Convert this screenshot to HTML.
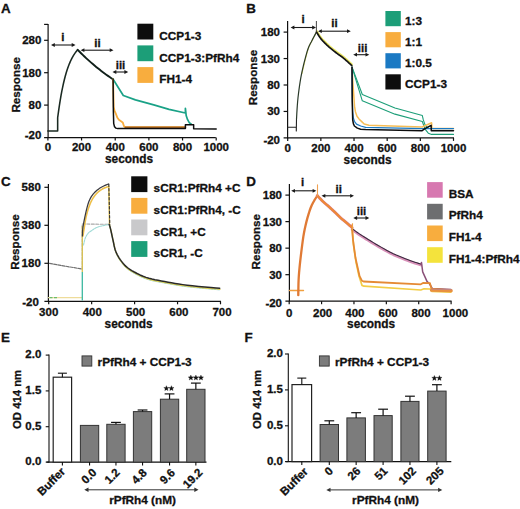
<!DOCTYPE html>
<html><head><meta charset="utf-8"><style>html,body{margin:0;padding:0;background:#fff;}svg{display:block;font-family:"Liberation Sans",sans-serif;font-weight:bold;}</style></head>
<body><svg width="520" height="509" viewBox="0 0 520 509" font-family="Liberation Sans, sans-serif" font-weight="bold">
<rect width="520" height="509" fill="#fff"/>
<text x="1.00" y="12.90" font-size="13.4" text-anchor="start" fill="#111" stroke="#111" stroke-width="0.3" >A</text>
<line x1="48.10" y1="23.90" x2="48.10" y2="138.00" stroke="#111111" stroke-width="1.2" />
<line x1="44.10" y1="24.40" x2="48.10" y2="24.40" stroke="#111111" stroke-width="1.2" />
<line x1="44.10" y1="40.30" x2="48.10" y2="40.30" stroke="#111111" stroke-width="1.2" />
<line x1="44.10" y1="72.70" x2="48.10" y2="72.70" stroke="#111111" stroke-width="1.2" />
<line x1="44.10" y1="105.10" x2="48.10" y2="105.10" stroke="#111111" stroke-width="1.2" />
<line x1="44.10" y1="137.50" x2="215.80" y2="137.50" stroke="#111111" stroke-width="1.25" />
<line x1="47.90" y1="137.50" x2="47.90" y2="140.50" stroke="#111111" stroke-width="1.2" />
<line x1="81.56" y1="137.50" x2="81.56" y2="140.50" stroke="#111111" stroke-width="1.2" />
<line x1="115.22" y1="137.50" x2="115.22" y2="140.50" stroke="#111111" stroke-width="1.2" />
<line x1="148.88" y1="137.50" x2="148.88" y2="140.50" stroke="#111111" stroke-width="1.2" />
<line x1="182.54" y1="137.50" x2="182.54" y2="140.50" stroke="#111111" stroke-width="1.2" />
<line x1="216.20" y1="137.50" x2="216.20" y2="140.50" stroke="#111111" stroke-width="1.2" />
<text x="41.40" y="44.20" font-size="11.5" text-anchor="end" fill="#111" stroke="#111" stroke-width="0.3" >280</text>
<text x="41.40" y="76.60" font-size="11.5" text-anchor="end" fill="#111" stroke="#111" stroke-width="0.3" >180</text>
<text x="41.40" y="109.00" font-size="11.5" text-anchor="end" fill="#111" stroke="#111" stroke-width="0.3" >80</text>
<text x="41.40" y="139.40" font-size="11.5" text-anchor="end" fill="#111" stroke="#111" stroke-width="0.3" >-20</text>
<text x="47.90" y="151.20" font-size="11.5" text-anchor="middle" fill="#111" stroke="#111" stroke-width="0.3" >0</text>
<text x="81.56" y="151.20" font-size="11.5" text-anchor="middle" fill="#111" stroke="#111" stroke-width="0.3" >200</text>
<text x="115.22" y="151.20" font-size="11.5" text-anchor="middle" fill="#111" stroke="#111" stroke-width="0.3" >400</text>
<text x="148.88" y="151.20" font-size="11.5" text-anchor="middle" fill="#111" stroke="#111" stroke-width="0.3" >600</text>
<text x="182.54" y="151.20" font-size="11.5" text-anchor="middle" fill="#111" stroke="#111" stroke-width="0.3" >800</text>
<text x="216.20" y="151.20" font-size="11.5" text-anchor="middle" fill="#111" stroke="#111" stroke-width="0.3" >1000</text>
<text transform="translate(20.30,84.80) rotate(-90)" font-size="11.6" text-anchor="middle" fill="#111" stroke="#111" stroke-width="0.3">Response</text>
<text x="129.00" y="163.10" font-size="11.85" text-anchor="middle" fill="#111" stroke="#111" stroke-width="0.3" >seconds</text>
<line x1="53.00" y1="45.00" x2="73.50" y2="45.00" stroke="#1a1a1a" stroke-width="1.1" />
<polygon points="51.00,45.00 54.80,43.10 54.80,46.90" fill="#1a1a1a"/>
<polygon points="75.50,45.00 71.70,43.10 71.70,46.90" fill="#1a1a1a"/>
<text x="62.90" y="41.30" font-size="11.5" text-anchor="middle" fill="#111" stroke="#111" stroke-width="0.3" >i</text>
<line x1="82.60" y1="50.20" x2="111.50" y2="50.20" stroke="#1a1a1a" stroke-width="1.1" />
<polygon points="80.60,50.20 84.40,48.30 84.40,52.10" fill="#1a1a1a"/>
<polygon points="113.50,50.20 109.70,48.30 109.70,52.10" fill="#1a1a1a"/>
<text x="97.50" y="46.90" font-size="11.5" text-anchor="middle" fill="#111" stroke="#111" stroke-width="0.3" >ii</text>
<line x1="114.50" y1="72.00" x2="126.20" y2="72.00" stroke="#1a1a1a" stroke-width="1.1" />
<polygon points="112.50,72.00 116.30,70.10 116.30,73.90" fill="#1a1a1a"/>
<polygon points="128.20,72.00 124.40,70.10 124.40,73.90" fill="#1a1a1a"/>
<text x="120.50" y="69.40" font-size="11.5" text-anchor="middle" fill="#111" stroke="#111" stroke-width="0.3" >iii</text>
<rect x="137.40" y="23.70" width="15.90" height="15.80" fill="#0d0d0d" stroke="none" stroke-width="0"/>
<text x="159.30" y="39.90" font-size="11.8" text-anchor="start" fill="#111" stroke="#111" stroke-width="0.3" >CCP1-3</text>
<rect x="137.40" y="45.40" width="15.90" height="15.80" fill="#1c9e78" stroke="none" stroke-width="0"/>
<text x="159.30" y="61.60" font-size="11.8" text-anchor="start" fill="#111" stroke="#111" stroke-width="0.3" >CCP1-3:PfRh4</text>
<rect x="137.40" y="67.10" width="15.90" height="15.80" fill="#f8ad3e" stroke="none" stroke-width="0"/>
<text x="159.30" y="83.30" font-size="11.8" text-anchor="start" fill="#111" stroke="#111" stroke-width="0.3" >FH1-4</text>
<polyline points="47.90,130.92 57.66,130.92 57.66,117.74 58.50,111.53 59.33,105.80 60.16,100.53 61.00,95.67 61.83,91.19 62.67,87.07 63.50,83.27 64.34,79.77 65.17,76.54 66.01,73.56 66.84,70.82 67.68,68.30 68.51,65.97 69.34,63.83 70.18,61.85 71.01,60.03 71.85,58.35 72.68,56.81 73.52,55.39 74.35,54.07 75.19,52.86 76.02,51.75 76.85,50.72 77.69,49.78" fill="none" stroke="#1a2a22" stroke-width="1.55" stroke-linejoin="round" stroke-linecap="round" />
<polyline points="77.69,49.79 79.37,51.52 81.06,53.21 82.74,54.87 84.42,56.49 86.10,58.07 87.79,59.62 89.47,61.14 91.15,62.63 92.84,64.08 94.52,65.51 96.20,66.90 97.89,68.26 99.57,69.60 101.25,70.91 102.93,72.18 104.62,73.44 106.30,74.66 107.98,75.86 109.67,77.03 111.35,78.18 113.03,79.31 113.10,79.35" fill="none" stroke="#10201a" stroke-width="1.9" stroke-linejoin="round" stroke-linecap="round" />
<polyline points="113.10,79.31 123.30,95.51 135.42,99.92 153.76,104.94 169.08,109.31 185.40,113.04 185.40,108.34 186.24,115.79 187.59,119.68 189.27,122.60 191.29,124.22" fill="none" stroke="#1aa287" stroke-width="1.7" stroke-linejoin="round" stroke-linecap="round" />
<polyline points="113.10,79.31 113.37,92.14 113.69,107.01 114.55,110.93 115.71,113.39 117.24,117.41 118.91,119.81 122.71,122.40 124.01,126.19 125.32,127.20 185.40,127.20" fill="none" stroke="#f8ad3e" stroke-width="1.8" stroke-linejoin="round" stroke-linecap="round" />
<polyline points="125.32,127.20 185.40,127.20" fill="none" stroke="#b06a25" stroke-width="1.4" stroke-linejoin="round" stroke-linecap="round" />
<polyline points="113.10,79.31 113.37,111.58 113.71,123.60 114.55,126.81 115.89,128.10 117.74,128.62 185.40,128.62 185.40,124.67 193.65,124.67 193.65,128.75 216.20,128.88" fill="none" stroke="#0d0d0d" stroke-width="1.5" stroke-linejoin="round" stroke-linecap="round" />
<text x="246.30" y="12.80" font-size="13.4" text-anchor="start" fill="#111" stroke="#111" stroke-width="0.3" >B</text>
<line x1="287.60" y1="21.00" x2="287.60" y2="138.40" stroke="#111111" stroke-width="1.2" />
<line x1="283.60" y1="32.10" x2="287.60" y2="32.10" stroke="#111111" stroke-width="1.2" />
<line x1="283.60" y1="58.55" x2="287.60" y2="58.55" stroke="#111111" stroke-width="1.2" />
<line x1="283.60" y1="85.00" x2="287.60" y2="85.00" stroke="#111111" stroke-width="1.2" />
<line x1="283.60" y1="111.45" x2="287.60" y2="111.45" stroke="#111111" stroke-width="1.2" />
<line x1="283.60" y1="137.90" x2="454.00" y2="137.90" stroke="#111111" stroke-width="1.25" />
<line x1="287.70" y1="137.90" x2="287.70" y2="140.90" stroke="#111111" stroke-width="1.2" />
<line x1="320.86" y1="137.90" x2="320.86" y2="140.90" stroke="#111111" stroke-width="1.2" />
<line x1="354.02" y1="137.90" x2="354.02" y2="140.90" stroke="#111111" stroke-width="1.2" />
<line x1="387.18" y1="137.90" x2="387.18" y2="140.90" stroke="#111111" stroke-width="1.2" />
<line x1="420.34" y1="137.90" x2="420.34" y2="140.90" stroke="#111111" stroke-width="1.2" />
<line x1="453.50" y1="137.90" x2="453.50" y2="140.90" stroke="#111111" stroke-width="1.2" />
<text x="280.00" y="36.10" font-size="11.5" text-anchor="end" fill="#111" stroke="#111" stroke-width="0.3" >180</text>
<text x="280.00" y="62.55" font-size="11.5" text-anchor="end" fill="#111" stroke="#111" stroke-width="0.3" >130</text>
<text x="280.00" y="89.00" font-size="11.5" text-anchor="end" fill="#111" stroke="#111" stroke-width="0.3" >80</text>
<text x="280.00" y="115.45" font-size="11.5" text-anchor="end" fill="#111" stroke="#111" stroke-width="0.3" >30</text>
<text x="280.00" y="143.70" font-size="11.5" text-anchor="end" fill="#111" stroke="#111" stroke-width="0.3" >-20</text>
<text x="287.70" y="152.40" font-size="11.5" text-anchor="middle" fill="#111" stroke="#111" stroke-width="0.3" >0</text>
<text x="320.86" y="152.40" font-size="11.5" text-anchor="middle" fill="#111" stroke="#111" stroke-width="0.3" >200</text>
<text x="354.02" y="152.40" font-size="11.5" text-anchor="middle" fill="#111" stroke="#111" stroke-width="0.3" >400</text>
<text x="387.18" y="152.40" font-size="11.5" text-anchor="middle" fill="#111" stroke="#111" stroke-width="0.3" >600</text>
<text x="420.34" y="152.40" font-size="11.5" text-anchor="middle" fill="#111" stroke="#111" stroke-width="0.3" >800</text>
<text x="453.50" y="152.40" font-size="11.5" text-anchor="middle" fill="#111" stroke="#111" stroke-width="0.3" >1000</text>
<text transform="translate(257.40,77.50) rotate(-90)" font-size="11.6" text-anchor="middle" fill="#111" stroke="#111" stroke-width="0.3">Response</text>
<text x="367.60" y="163.60" font-size="11.85" text-anchor="middle" fill="#111" stroke="#111" stroke-width="0.3" >seconds</text>
<line x1="292.60" y1="27.50" x2="314.00" y2="27.50" stroke="#1a1a1a" stroke-width="1.1" />
<polygon points="290.60,27.50 294.40,25.60 294.40,29.40" fill="#1a1a1a"/>
<polygon points="316.00,27.50 312.20,25.60 312.20,29.40" fill="#1a1a1a"/>
<text x="303.20" y="23.20" font-size="11.5" text-anchor="middle" fill="#111" stroke="#111" stroke-width="0.3" >i</text>
<line x1="320.00" y1="31.20" x2="348.80" y2="31.20" stroke="#1a1a1a" stroke-width="1.1" />
<polygon points="318.00,31.20 321.80,29.30 321.80,33.10" fill="#1a1a1a"/>
<polygon points="350.80,31.20 347.00,29.30 347.00,33.10" fill="#1a1a1a"/>
<text x="334.50" y="27.30" font-size="11.5" text-anchor="middle" fill="#111" stroke="#111" stroke-width="0.3" >ii</text>
<line x1="355.20" y1="54.70" x2="367.30" y2="54.70" stroke="#1a1a1a" stroke-width="1.1" />
<polygon points="353.20,54.70 357.00,52.80 357.00,56.60" fill="#1a1a1a"/>
<polygon points="369.30,54.70 365.50,52.80 365.50,56.60" fill="#1a1a1a"/>
<text x="362.60" y="52.00" font-size="11.5" text-anchor="middle" fill="#111" stroke="#111" stroke-width="0.3" >iii</text>
<rect x="385.40" y="11.00" width="15.40" height="15.20" fill="#1c9e78" stroke="none" stroke-width="0"/>
<text x="405.00" y="24.70" font-size="11.8" text-anchor="start" fill="#111" stroke="#111" stroke-width="0.3" >1:3</text>
<rect x="385.40" y="32.10" width="15.40" height="15.20" fill="#f8ad3e" stroke="none" stroke-width="0"/>
<text x="405.00" y="45.80" font-size="11.8" text-anchor="start" fill="#111" stroke="#111" stroke-width="0.3" >1:1</text>
<rect x="385.40" y="53.20" width="15.40" height="15.20" fill="#1b79c3" stroke="none" stroke-width="0"/>
<text x="405.00" y="66.90" font-size="11.8" text-anchor="start" fill="#111" stroke="#111" stroke-width="0.3" >1:0.5</text>
<rect x="385.40" y="74.30" width="15.40" height="15.20" fill="#0d0d0d" stroke="none" stroke-width="0"/>
<text x="405.00" y="88.00" font-size="11.8" text-anchor="start" fill="#111" stroke="#111" stroke-width="0.3" >CCP1-3</text>
<polyline points="287.80,127.30 296.30,127.30 296.30,130.90 296.50,119.00" fill="none" stroke="#222" stroke-width="1.1" stroke-linejoin="round" stroke-linecap="round" />
<polyline points="301.90,73.60 302.56,70.89 303.48,67.01 304.56,62.49 305.71,57.82 306.82,53.52 307.80,50.10 308.64,47.61 309.43,45.65 310.19,44.06 310.92,42.68 311.65,41.35 312.40,39.90 313.21,38.29 314.07,36.63 314.94,35.01 315.74,33.54 316.41,32.31 316.90,31.40" fill="none" stroke="#e6e070" stroke-width="1.1" stroke-linejoin="round" stroke-linecap="round" />
<polyline points="296.50,119.00 296.64,116.72 296.81,113.59 297.03,109.88 297.30,105.83 297.62,101.72 298.00,97.80 298.44,94.00 298.93,90.11 299.47,86.14 300.08,82.15 300.75,78.16 301.50,74.20 302.36,70.12 303.34,65.87 304.38,61.61 305.44,57.54 306.46,53.85 307.40,50.70 308.24,48.21 309.03,46.25 309.79,44.66 310.52,43.28 311.25,41.95 312.00,40.50 312.81,38.89 313.67,37.23 314.54,35.61 315.34,34.14 316.01,32.91 316.50,32.00" fill="none" stroke="#2a3a2a" stroke-width="1.2" stroke-linejoin="round" stroke-linecap="round" />
<polyline points="316.70,30.70 317.16,31.43 317.78,32.45 318.52,33.65 319.34,34.93 320.18,36.18 321.00,37.30 321.81,38.30 322.65,39.26 323.52,40.20 324.40,41.11 325.30,42.01 326.20,42.90 327.11,43.78 328.04,44.64 328.99,45.49 329.93,46.31 330.87,47.12 331.80,47.90 332.71,48.65 333.61,49.37 334.51,50.07 335.41,50.75 336.30,51.43 337.20,52.10 338.11,52.77 339.03,53.42 339.95,54.07 340.86,54.71 341.75,55.35 342.60,56.00 343.41,56.64 344.19,57.28 344.94,57.92 345.68,58.56 346.43,59.22 347.20,59.90 348.04,60.66 348.96,61.49 349.89,62.34 350.75,63.14 351.48,63.82 352.00,64.30" fill="none" stroke="#e8e460" stroke-width="1.8" stroke-linejoin="round" stroke-linecap="round" />
<polyline points="316.50,32.00 316.96,32.73 317.58,33.75 318.33,34.95 319.14,36.23 319.98,37.48 320.80,38.60 321.61,39.60 322.45,40.56 323.32,41.50 324.20,42.41 325.10,43.31 326.00,44.20 326.91,45.08 327.84,45.94 328.79,46.79 329.73,47.61 330.67,48.42 331.60,49.20 332.51,49.95 333.41,50.67 334.31,51.37 335.21,52.05 336.10,52.73 337.00,53.40 337.91,54.07 338.83,54.72 339.75,55.37 340.66,56.01 341.55,56.65 342.40,57.30 343.21,57.94 343.99,58.58 344.74,59.22 345.48,59.86 346.23,60.52 347.00,61.20 347.84,61.96 348.76,62.79 349.69,63.64 350.55,64.44 351.28,65.12 351.80,65.60" fill="none" stroke="#141414" stroke-width="1.7" stroke-linejoin="round" stroke-linecap="round" />
<line x1="316.38" y1="21.00" x2="316.38" y2="31.70" stroke="#444" stroke-width="1.0" />
<polyline points="352.03,67.17 362.31,94.52 394.97,107.96 422.33,115.58 423.32,119.91 424.98,124.68 426.97,127.32 429.46,128.48 453.50,128.48" fill="none" stroke="#1c9e78" stroke-width="1.1" stroke-linejoin="round" stroke-linecap="round" />
<polyline points="352.03,67.17 362.31,100.82 394.97,114.15 422.33,121.55 423.66,125.20 425.65,129.97 428.30,133.14 431.61,134.41 453.50,134.41" fill="none" stroke="#1c9e78" stroke-width="1.1" stroke-linejoin="round" stroke-linecap="round" />
<polyline points="352.03,67.17 352.36,74.42 353.19,87.65 353.90,97.01 354.52,106.16 355.40,111.66 357.00,116.21 358.99,118.91 361.99,121.87 364.20,124.09 368.94,125.20 422.16,127.00 431.61,122.77 431.95,128.59 453.50,128.59" fill="none" stroke="#f6bd55" stroke-width="1.5" stroke-linejoin="round" stroke-linecap="round" />
<polyline points="352.03,67.17 352.20,90.29 352.69,111.45 353.36,117.80 354.40,121.29 356.51,124.15 360.70,126.00 365.63,127.32 422.16,128.59 431.61,128.59 453.50,128.59" fill="none" stroke="#1b79c3" stroke-width="1.2" stroke-linejoin="round" stroke-linecap="round" />
<polyline points="352.03,67.17 352.20,100.87 352.69,119.91 353.36,123.62 354.40,126.00 357.34,128.11 360.65,129.17 365.63,129.49 422.16,130.71 425.31,128.38 431.12,125.36 431.28,130.71 453.50,130.71" fill="none" stroke="#0d0d0d" stroke-width="1.5" stroke-linejoin="round" stroke-linecap="round" />
<text x="1.00" y="186.40" font-size="13.4" text-anchor="start" fill="#111" stroke="#111" stroke-width="0.3" >C</text>
<line x1="48.40" y1="183.90" x2="48.40" y2="301.80" stroke="#111111" stroke-width="1.2" />
<line x1="44.40" y1="187.30" x2="48.40" y2="187.30" stroke="#111111" stroke-width="1.2" />
<line x1="44.40" y1="225.30" x2="48.40" y2="225.30" stroke="#111111" stroke-width="1.2" />
<line x1="44.40" y1="263.30" x2="48.40" y2="263.30" stroke="#111111" stroke-width="1.2" />
<line x1="44.40" y1="301.30" x2="221.00" y2="301.30" stroke="#111111" stroke-width="1.25" />
<line x1="48.70" y1="301.30" x2="48.70" y2="304.30" stroke="#111111" stroke-width="1.2" />
<line x1="91.65" y1="301.30" x2="91.65" y2="304.30" stroke="#111111" stroke-width="1.2" />
<line x1="134.60" y1="301.30" x2="134.60" y2="304.30" stroke="#111111" stroke-width="1.2" />
<line x1="177.55" y1="301.30" x2="177.55" y2="304.30" stroke="#111111" stroke-width="1.2" />
<line x1="220.50" y1="301.30" x2="220.50" y2="304.30" stroke="#111111" stroke-width="1.2" />
<text x="40.80" y="191.20" font-size="11.5" text-anchor="end" fill="#111" stroke="#111" stroke-width="0.3" >580</text>
<text x="40.80" y="229.20" font-size="11.5" text-anchor="end" fill="#111" stroke="#111" stroke-width="0.3" >380</text>
<text x="40.80" y="267.20" font-size="11.5" text-anchor="end" fill="#111" stroke="#111" stroke-width="0.3" >180</text>
<text x="38.80" y="306.00" font-size="11.5" text-anchor="end" fill="#111" stroke="#111" stroke-width="0.3" >-20</text>
<text x="48.70" y="316.30" font-size="11.5" text-anchor="middle" fill="#111" stroke="#111" stroke-width="0.3" >300</text>
<text x="92.25" y="316.30" font-size="11.5" text-anchor="middle" fill="#111" stroke="#111" stroke-width="0.3" >400</text>
<text x="135.60" y="316.30" font-size="11.5" text-anchor="middle" fill="#111" stroke="#111" stroke-width="0.3" >500</text>
<text x="178.85" y="316.30" font-size="11.5" text-anchor="middle" fill="#111" stroke="#111" stroke-width="0.3" >600</text>
<text x="222.00" y="316.30" font-size="11.5" text-anchor="middle" fill="#111" stroke="#111" stroke-width="0.3" >700</text>
<text transform="translate(18.50,242.00) rotate(-90)" font-size="11.6" text-anchor="middle" fill="#111" stroke="#111" stroke-width="0.3">Response</text>
<text x="128.60" y="327.60" font-size="11.85" text-anchor="middle" fill="#111" stroke="#111" stroke-width="0.3" >seconds</text>
<rect x="131.20" y="176.30" width="16.20" height="15.80" fill="#0d0d0d" stroke="none" stroke-width="0"/>
<text x="153.60" y="192.40" font-size="11.8" text-anchor="start" fill="#111" stroke="#111" stroke-width="0.3" >sCR1:PfRh4 +C</text>
<rect x="131.20" y="197.90" width="16.20" height="15.80" fill="#f8ad3e" stroke="none" stroke-width="0"/>
<text x="153.60" y="214.00" font-size="11.8" text-anchor="start" fill="#111" stroke="#111" stroke-width="0.3" >sCR1:PfRh4, -C</text>
<rect x="131.20" y="219.50" width="16.20" height="15.80" fill="#c9c9cb" stroke="none" stroke-width="0"/>
<text x="153.60" y="235.60" font-size="11.8" text-anchor="start" fill="#111" stroke="#111" stroke-width="0.3" >sCR1, +C</text>
<rect x="131.20" y="241.10" width="16.20" height="15.80" fill="#1c9e78" stroke="none" stroke-width="0"/>
<text x="153.60" y="257.20" font-size="11.8" text-anchor="start" fill="#111" stroke="#111" stroke-width="0.3" >sCR1, -C</text>
<polyline points="49.50,263.40 81.20,268.90" fill="none" stroke="#707070" stroke-width="1.2" stroke-linejoin="round" stroke-linecap="round" stroke-dasharray="3,1.2"/>
<polyline points="82.20,268.90 82.20,224.00 108.50,224.30" fill="none" stroke="#a8a8a8" stroke-width="1.1" stroke-linejoin="round" stroke-linecap="round" stroke-dasharray="3,1.5"/>
<polyline points="83.50,245.00 83.69,244.21 83.93,243.09 84.23,241.78 84.57,240.41 84.93,239.10 85.30,238.00 85.69,237.08 86.12,236.24 86.57,235.47 87.04,234.76 87.52,234.11 88.00,233.50 88.44,232.98 88.83,232.57 89.23,232.22 89.69,231.87 90.27,231.48 91.00,231.00 91.89,230.40 92.88,229.73 93.98,229.01 95.20,228.29 96.54,227.60 98.00,227.00 99.77,226.46 101.87,225.93 104.09,225.45 106.21,225.02 108.02,224.67 109.30,224.40" fill="none" stroke="#9edad6" stroke-width="1.1" stroke-linejoin="round" stroke-linecap="round" stroke-dasharray="2,1"/>
<polyline points="48.50,297.60 82.20,297.60" fill="none" stroke="#eedc9a" stroke-width="1.3" stroke-linejoin="round" stroke-linecap="round" />
<line x1="49.50" y1="297.60" x2="58.00" y2="297.60" stroke="#6cbc6c" stroke-width="1.1" stroke-dasharray="3,1.5"/>
<line x1="82.30" y1="300.50" x2="82.30" y2="272.00" stroke="#3bb8a0" stroke-width="1.3" />
<line x1="82.30" y1="272.00" x2="82.30" y2="226.00" stroke="#d8c050" stroke-width="1.3" />
<polyline points="83.00,236.00 83.08,235.43 83.17,234.72 83.28,233.84 83.43,232.76 83.64,231.42 83.90,229.80 84.23,227.77 84.60,225.34 85.03,222.67 85.51,219.90 86.03,217.19 86.60,214.70 87.22,212.37 87.90,210.06 88.63,207.81 89.40,205.66 90.19,203.65 91.00,201.80 91.83,200.14 92.69,198.63 93.58,197.25 94.49,195.99 95.43,194.81 96.40,193.70 97.42,192.67 98.50,191.73 99.60,190.88 100.70,190.11 101.78,189.42 102.80,188.80 103.82,188.25 104.87,187.79 105.90,187.39 106.84,187.07 107.62,186.81 108.20,186.60" fill="none" stroke="#eec04a" stroke-width="1.6" stroke-linejoin="round" stroke-linecap="round" />
<polyline points="82.40,236.00 82.43,235.16 82.45,234.06 82.48,232.73 82.55,231.20 82.68,229.52 82.90,227.70 83.22,225.66 83.62,223.34 84.08,220.87 84.58,218.34 85.10,215.88 85.60,213.60 86.09,211.45 86.59,209.34 87.10,207.29 87.63,205.34 88.20,203.50 88.80,201.80 89.43,200.27 90.07,198.89 90.74,197.63 91.46,196.45 92.24,195.32 93.10,194.20 94.04,193.09 95.06,192.03 96.14,191.01 97.27,190.05 98.43,189.14 99.60,188.30 100.87,187.50 102.28,186.75 103.72,186.05 105.09,185.43 106.28,184.91 107.20,184.50 107.81,184.24 108.18,184.13 108.38,184.11 108.47,184.15 108.52,184.19 108.60,184.20" fill="none" stroke="#3a3a40" stroke-width="1.25" stroke-linejoin="round" stroke-linecap="round" />
<polyline points="108.80,186.00 109.50,224.70" fill="none" stroke="#d9b430" stroke-width="1.3" stroke-linejoin="round" stroke-linecap="round" />
<polyline points="108.80,184.00 109.80,224.70" fill="none" stroke="#333" stroke-width="1.1" stroke-linejoin="round" stroke-linecap="round" stroke-dasharray="2.5,2"/>
<polyline points="109.50,225.90 109.65,226.42 109.86,227.08 110.11,227.89 110.39,228.84 110.69,229.95 111.00,231.20 111.33,232.66 111.69,234.33 112.07,236.14 112.47,238.04 112.88,239.95 113.30,241.80 113.69,243.63 114.07,245.49 114.45,247.36 114.88,249.21 115.38,251.04 116.00,252.80 116.72,254.51 117.52,256.19 118.40,257.82 119.36,259.43 120.39,260.99 121.50,262.50 122.63,263.95 123.76,265.34 124.96,266.69 126.32,268.01 127.91,269.34 129.80,270.70 132.05,272.13 134.61,273.61 137.40,275.11 140.33,276.54 143.33,277.86 146.30,279.00 149.25,279.93 152.23,280.69 155.28,281.34 158.40,281.92 161.64,282.49 165.00,283.10 168.41,283.75 171.85,284.39 175.39,285.01 179.12,285.63 183.13,286.22 187.50,286.80 192.71,287.39 198.80,287.99 205.16,288.58 211.20,289.12 216.35,289.57 220.00,289.90" fill="none" stroke="#8fd6d2" stroke-width="1.0" stroke-linejoin="round" stroke-linecap="round" stroke-dasharray="2,1"/>
<polyline points="109.50,225.30 109.65,225.82 109.86,226.48 110.11,227.29 110.39,228.24 110.69,229.35 111.00,230.60 111.33,232.06 111.69,233.73 112.07,235.54 112.47,237.44 112.88,239.35 113.30,241.20 113.69,243.03 114.07,244.89 114.45,246.76 114.88,248.61 115.38,250.44 116.00,252.20 116.72,253.91 117.52,255.59 118.40,257.23 119.36,258.83 120.39,260.39 121.50,261.90 122.63,263.35 123.76,264.74 124.96,266.09 126.32,267.41 127.91,268.74 129.80,270.10 132.05,271.53 134.61,273.01 137.40,274.51 140.33,275.94 143.33,277.26 146.30,278.40 149.25,279.33 152.23,280.09 155.28,280.74 158.40,281.32 161.64,281.89 165.00,282.50 168.41,283.15 171.85,283.79 175.39,284.41 179.12,285.03 183.13,285.62 187.50,286.20 192.71,286.79 198.80,287.39 205.16,287.98 211.20,288.52 216.35,288.97 220.00,289.30" fill="none" stroke="#e0cf50" stroke-width="1.3" stroke-linejoin="round" stroke-linecap="round" />
<polyline points="109.20,224.30 109.35,224.82 109.56,225.48 109.81,226.29 110.09,227.24 110.39,228.35 110.70,229.60 111.03,231.06 111.39,232.73 111.78,234.54 112.17,236.44 112.58,238.35 113.00,240.20 113.39,242.03 113.77,243.89 114.15,245.76 114.58,247.61 115.08,249.44 115.70,251.20 116.42,252.91 117.22,254.59 118.10,256.23 119.06,257.83 120.09,259.39 121.20,260.90 122.33,262.35 123.46,263.74 124.66,265.09 126.02,266.41 127.61,267.74 129.50,269.10 131.75,270.53 134.31,272.01 137.10,273.51 140.03,274.94 143.03,276.26 146.00,277.40 148.95,278.33 151.93,279.09 154.97,279.74 158.10,280.32 161.34,280.89 164.70,281.50 168.11,282.15 171.55,282.79 175.09,283.41 178.82,284.03 182.83,284.62 187.20,285.20 192.41,285.79 198.50,286.39 204.86,286.98 210.90,287.52 216.05,287.97 219.70,288.30" fill="none" stroke="#2a2a2a" stroke-width="1.5" stroke-linejoin="round" stroke-linecap="round" />
<text x="246.30" y="185.80" font-size="13.4" text-anchor="start" fill="#111" stroke="#111" stroke-width="0.3" >D</text>
<line x1="289.40" y1="183.90" x2="289.40" y2="301.70" stroke="#111111" stroke-width="1.2" />
<line x1="285.40" y1="195.10" x2="289.40" y2="195.10" stroke="#111111" stroke-width="1.2" />
<line x1="285.40" y1="221.62" x2="289.40" y2="221.62" stroke="#111111" stroke-width="1.2" />
<line x1="285.40" y1="248.15" x2="289.40" y2="248.15" stroke="#111111" stroke-width="1.2" />
<line x1="285.40" y1="274.68" x2="289.40" y2="274.68" stroke="#111111" stroke-width="1.2" />
<line x1="285.40" y1="301.20" x2="451.60" y2="301.20" stroke="#111111" stroke-width="1.25" />
<line x1="289.20" y1="301.20" x2="289.20" y2="304.20" stroke="#111111" stroke-width="1.2" />
<line x1="321.58" y1="301.20" x2="321.58" y2="304.20" stroke="#111111" stroke-width="1.2" />
<line x1="353.96" y1="301.20" x2="353.96" y2="304.20" stroke="#111111" stroke-width="1.2" />
<line x1="386.34" y1="301.20" x2="386.34" y2="304.20" stroke="#111111" stroke-width="1.2" />
<line x1="418.72" y1="301.20" x2="418.72" y2="304.20" stroke="#111111" stroke-width="1.2" />
<line x1="451.10" y1="301.20" x2="451.10" y2="304.20" stroke="#111111" stroke-width="1.2" />
<text x="282.00" y="199.00" font-size="11.5" text-anchor="end" fill="#111" stroke="#111" stroke-width="0.3" >180</text>
<text x="282.00" y="225.53" font-size="11.5" text-anchor="end" fill="#111" stroke="#111" stroke-width="0.3" >130</text>
<text x="282.00" y="252.05" font-size="11.5" text-anchor="end" fill="#111" stroke="#111" stroke-width="0.3" >80</text>
<text x="282.00" y="278.57" font-size="11.5" text-anchor="end" fill="#111" stroke="#111" stroke-width="0.3" >30</text>
<text x="282.00" y="306.90" font-size="11.5" text-anchor="end" fill="#111" stroke="#111" stroke-width="0.3" >-20</text>
<text x="289.20" y="316.70" font-size="11.5" text-anchor="middle" fill="#111" stroke="#111" stroke-width="0.3" >0</text>
<text x="322.58" y="316.70" font-size="11.5" text-anchor="middle" fill="#111" stroke="#111" stroke-width="0.3" >200</text>
<text x="354.86" y="316.70" font-size="11.5" text-anchor="middle" fill="#111" stroke="#111" stroke-width="0.3" >400</text>
<text x="388.14" y="316.70" font-size="11.5" text-anchor="middle" fill="#111" stroke="#111" stroke-width="0.3" >600</text>
<text x="421.02" y="316.70" font-size="11.5" text-anchor="middle" fill="#111" stroke="#111" stroke-width="0.3" >800</text>
<text x="455.40" y="316.70" font-size="11.5" text-anchor="middle" fill="#111" stroke="#111" stroke-width="0.3" >1000</text>
<text transform="translate(260.30,241.70) rotate(-90)" font-size="11.6" text-anchor="middle" fill="#111" stroke="#111" stroke-width="0.3">Response</text>
<text x="371.10" y="328.40" font-size="11.85" text-anchor="middle" fill="#111" stroke="#111" stroke-width="0.3" >seconds</text>
<line x1="293.20" y1="190.80" x2="314.40" y2="190.80" stroke="#1a1a1a" stroke-width="1.1" />
<polygon points="291.20,190.80 295.00,188.90 295.00,192.70" fill="#1a1a1a"/>
<polygon points="316.40,190.80 312.60,188.90 312.60,192.70" fill="#1a1a1a"/>
<text x="302.70" y="186.30" font-size="11.5" text-anchor="middle" fill="#111" stroke="#111" stroke-width="0.3" >i</text>
<line x1="323.50" y1="195.80" x2="352.00" y2="195.80" stroke="#1a1a1a" stroke-width="1.1" />
<polygon points="321.50,195.80 325.30,193.90 325.30,197.70" fill="#1a1a1a"/>
<polygon points="354.00,195.80 350.20,193.90 350.20,197.70" fill="#1a1a1a"/>
<text x="338.70" y="192.80" font-size="11.5" text-anchor="middle" fill="#111" stroke="#111" stroke-width="0.3" >ii</text>
<line x1="355.30" y1="218.00" x2="367.30" y2="218.00" stroke="#1a1a1a" stroke-width="1.1" />
<polygon points="353.30,218.00 357.10,216.10 357.10,219.90" fill="#1a1a1a"/>
<polygon points="369.30,218.00 365.50,216.10 365.50,219.90" fill="#1a1a1a"/>
<text x="361.50" y="214.80" font-size="11.5" text-anchor="middle" fill="#111" stroke="#111" stroke-width="0.3" >iii</text>
<rect x="427.10" y="182.10" width="15.60" height="15.60" fill="#d778b0" stroke="none" stroke-width="0"/>
<text x="448.70" y="197.70" font-size="11.8" text-anchor="start" fill="#111" stroke="#111" stroke-width="0.3" >BSA</text>
<rect x="427.10" y="203.80" width="15.60" height="15.60" fill="#6d6e70" stroke="none" stroke-width="0"/>
<text x="448.70" y="219.40" font-size="11.8" text-anchor="start" fill="#111" stroke="#111" stroke-width="0.3" >PfRh4</text>
<rect x="427.10" y="225.50" width="15.60" height="15.60" fill="#f8ad3e" stroke="none" stroke-width="0"/>
<text x="448.70" y="241.10" font-size="11.8" text-anchor="start" fill="#111" stroke="#111" stroke-width="0.3" >FH1-4</text>
<rect x="427.10" y="247.20" width="15.60" height="15.60" fill="#f4e33c" stroke="none" stroke-width="0"/>
<text x="448.70" y="262.80" font-size="11.8" text-anchor="start" fill="#111" stroke="#111" stroke-width="0.3" >FH1-4:PfRh4</text>
<polyline points="352.10,229.60 352.63,229.99 353.36,230.54 354.23,231.19 355.17,231.88 356.12,232.57 357.00,233.20 357.74,233.72 358.36,234.16 358.99,234.59 359.74,235.09 360.74,235.73 362.10,236.60 363.87,237.72 365.96,239.05 368.29,240.52 370.79,242.07 373.38,243.65 376.00,245.20 378.69,246.76 381.51,248.39 384.44,250.05 387.41,251.69 390.38,253.25 393.30,254.70 396.26,256.05 399.33,257.35 402.39,258.58 405.35,259.73 408.12,260.77 410.60,261.70 412.84,262.51 414.93,263.23 416.83,263.84 418.49,264.35 419.86,264.77 420.90,265.10" fill="none" stroke="#d890b8" stroke-width="2.6" stroke-linejoin="round" stroke-linecap="round" />
<polyline points="352.10,228.60 352.63,228.99 353.36,229.54 354.23,230.19 355.17,230.88 356.12,231.57 357.00,232.20 357.74,232.72 358.36,233.16 358.99,233.59 359.74,234.09 360.74,234.73 362.10,235.60 363.87,236.72 365.96,238.05 368.29,239.52 370.79,241.07 373.38,242.65 376.00,244.20 378.69,245.76 381.51,247.39 384.44,249.05 387.41,250.69 390.38,252.25 393.30,253.70 396.26,255.05 399.33,256.35 402.39,257.58 405.35,258.73 408.12,259.77 410.60,260.70 412.84,261.51 414.93,262.23 416.83,262.84 418.49,263.35 419.86,263.77 420.90,264.10" fill="none" stroke="#3b2b40" stroke-width="1.1" stroke-linejoin="round" stroke-linecap="round" />
<polyline points="420.90,264.10 421.50,262.50 422.70,271.90 427.00,281.40 429.60,284.00 432.40,288.60 450.90,289.50" fill="none" stroke="#8a5078" stroke-width="1.5" stroke-linejoin="round" stroke-linecap="round" />
<polyline points="352.10,227.00 353.50,245.00 356.00,262.00 359.00,276.00 362.00,285.40 364.00,286.20 420.80,290.00 424.00,288.80 430.00,289.00 432.00,291.40 450.90,292.20" fill="none" stroke="#f3cc45" stroke-width="1.7" stroke-linejoin="round" stroke-linecap="round" />
<polyline points="351.80,225.40 353.00,240.00 355.50,258.00 359.60,276.20 362.00,280.80 363.50,281.50 420.80,284.30 423.00,283.00 430.00,283.20 431.50,288.90 450.90,290.50" fill="none" stroke="#e58a35" stroke-width="1.8" stroke-linejoin="round" stroke-linecap="round" />
<polyline points="431.50,290.20 451.20,290.60" fill="none" stroke="#e89040" stroke-width="3.2" stroke-linejoin="round" stroke-linecap="round" />
<polyline points="431.50,289.20 451.20,289.60" fill="none" stroke="#b88090" stroke-width="0.8" stroke-linejoin="round" stroke-linecap="round" />
<polyline points="289.50,290.50 303.50,290.50" fill="none" stroke="#f0a040" stroke-width="1.4" stroke-linejoin="round" stroke-linecap="round" />
<polyline points="298.30,290.50 298.30,295.20" fill="none" stroke="#e07a30" stroke-width="1.2" stroke-linejoin="round" stroke-linecap="round" />
<polyline points="298.30,295.20 298.33,293.20 298.36,290.47 298.40,287.22 298.47,283.64 298.60,279.93 298.80,276.30 299.08,272.65 299.42,268.81 299.81,264.84 300.25,260.81 300.71,256.78 301.20,252.80 301.69,248.84 302.20,244.85 302.73,240.86 303.31,236.89 303.97,233.00 304.70,229.20 305.54,225.43 306.46,221.63 307.45,217.90 308.49,214.33 309.54,211.00 310.60,208.00 311.75,205.28 313.02,202.76 314.32,200.47 315.53,198.49 316.56,196.85 317.30,195.60" fill="none" stroke="#e07a35" stroke-width="2.3" stroke-linejoin="round" stroke-linecap="round" />
<polyline points="317.30,195.60 317.91,196.24 318.74,197.13 319.73,198.18 320.81,199.31 321.93,200.45 323.00,201.50 324.07,202.49 325.19,203.49 326.34,204.48 327.50,205.47 328.62,206.45 329.70,207.40 330.72,208.32 331.69,209.22 332.64,210.11 333.59,210.99 334.53,211.88 335.50,212.80 336.49,213.76 337.50,214.75 338.52,215.75 339.53,216.74 340.53,217.70 341.50,218.60 342.45,219.44 343.39,220.23 344.31,220.99 345.21,221.73 346.11,222.46 347.00,223.20 347.93,223.98 348.92,224.81 349.89,225.64 350.79,226.40 351.55,227.04 352.10,227.50" fill="none" stroke="#d77a8a" stroke-width="2.9" stroke-linejoin="round" stroke-linecap="round" />
<polyline points="317.30,195.60 317.91,196.24 318.74,197.13 319.73,198.18 320.81,199.31 321.93,200.45 323.00,201.50 324.07,202.49 325.19,203.49 326.34,204.48 327.50,205.47 328.62,206.45 329.70,207.40 330.72,208.32 331.69,209.22 332.64,210.11 333.59,210.99 334.53,211.88 335.50,212.80 336.49,213.76 337.50,214.75 338.52,215.75 339.53,216.74 340.53,217.70 341.50,218.60 342.45,219.44 343.39,220.23 344.31,220.99 345.21,221.73 346.11,222.46 347.00,223.20 347.93,223.98 348.92,224.81 349.89,225.64 350.79,226.40 351.55,227.04 352.10,227.50" fill="none" stroke="#ee8a35" stroke-width="2.0" stroke-linejoin="round" stroke-linecap="round" />
<line x1="317.50" y1="184.40" x2="317.50" y2="196.00" stroke="#f0a050" stroke-width="1.1" />
<line x1="352.50" y1="223.30" x2="352.50" y2="230.00" stroke="#f0a040" stroke-width="1.1" />
<text x="1.00" y="342.00" font-size="13.4" text-anchor="start" fill="#111" stroke="#111" stroke-width="0.3" >E</text>
<line x1="49.00" y1="354.60" x2="49.00" y2="462.60" stroke="#111111" stroke-width="1.1" />
<line x1="45.70" y1="355.10" x2="49.00" y2="355.10" stroke="#111111" stroke-width="1.1" />
<line x1="45.70" y1="390.90" x2="49.00" y2="390.90" stroke="#111111" stroke-width="1.1" />
<line x1="45.70" y1="426.70" x2="49.00" y2="426.70" stroke="#111111" stroke-width="1.1" />
<line x1="45.70" y1="462.10" x2="49.00" y2="462.10" stroke="#111111" stroke-width="1.1" />
<line x1="46.50" y1="462.10" x2="206.50" y2="462.10" stroke="#111111" stroke-width="1.1" />
<text x="41.30" y="358.30" font-size="11.5" text-anchor="end" fill="#111" stroke="#111" stroke-width="0.3" >2.0</text>
<text x="41.30" y="394.10" font-size="11.5" text-anchor="end" fill="#111" stroke="#111" stroke-width="0.3" >1.5</text>
<text x="41.30" y="429.90" font-size="11.5" text-anchor="end" fill="#111" stroke="#111" stroke-width="0.3" >0.5</text>
<text x="41.30" y="465.30" font-size="11.5" text-anchor="end" fill="#111" stroke="#111" stroke-width="0.3" >0.0</text>
<rect x="53.20" y="377.20" width="18.40" height="84.90" fill="#fff" stroke="#222" stroke-width="1.2"/>
<line x1="62.40" y1="373.20" x2="62.40" y2="377.20" stroke="#111111" stroke-width="1.1" />
<line x1="57.90" y1="373.20" x2="66.90" y2="373.20" stroke="#111111" stroke-width="1.1" />
<line x1="62.40" y1="462.10" x2="62.40" y2="465.40" stroke="#111111" stroke-width="1.1" />
<rect x="80.40" y="425.40" width="18.30" height="36.70" fill="#7c7c7c" stroke="#333" stroke-width="1.0"/>
<line x1="89.55" y1="462.10" x2="89.55" y2="465.40" stroke="#111111" stroke-width="1.1" />
<rect x="106.80" y="424.30" width="18.30" height="37.80" fill="#7c7c7c" stroke="#333" stroke-width="1.0"/>
<line x1="115.95" y1="422.40" x2="115.95" y2="424.30" stroke="#111111" stroke-width="1.2" />
<line x1="111.05" y1="422.40" x2="120.85" y2="422.40" stroke="#111111" stroke-width="1.2" />
<line x1="115.95" y1="462.10" x2="115.95" y2="465.40" stroke="#111111" stroke-width="1.1" />
<rect x="133.40" y="411.60" width="18.30" height="50.50" fill="#7c7c7c" stroke="#333" stroke-width="1.0"/>
<line x1="142.55" y1="410.00" x2="142.55" y2="411.60" stroke="#111111" stroke-width="1.2" />
<line x1="137.65" y1="410.00" x2="147.45" y2="410.00" stroke="#111111" stroke-width="1.2" />
<line x1="142.55" y1="462.10" x2="142.55" y2="465.40" stroke="#111111" stroke-width="1.1" />
<rect x="160.40" y="399.20" width="18.30" height="62.90" fill="#7c7c7c" stroke="#333" stroke-width="1.0"/>
<line x1="169.55" y1="393.90" x2="169.55" y2="399.20" stroke="#111111" stroke-width="1.2" />
<line x1="164.65" y1="393.90" x2="174.45" y2="393.90" stroke="#111111" stroke-width="1.2" />
<line x1="169.55" y1="462.10" x2="169.55" y2="465.40" stroke="#111111" stroke-width="1.1" />
<rect x="186.70" y="389.30" width="18.30" height="72.80" fill="#7c7c7c" stroke="#333" stroke-width="1.0"/>
<line x1="195.85" y1="383.10" x2="195.85" y2="389.30" stroke="#111111" stroke-width="1.2" />
<line x1="190.95" y1="383.10" x2="200.75" y2="383.10" stroke="#111111" stroke-width="1.2" />
<line x1="195.85" y1="462.10" x2="195.85" y2="465.40" stroke="#111111" stroke-width="1.1" />
<rect x="82.00" y="355.90" width="9.80" height="10.20" fill="#7c7c7c" stroke="#333" stroke-width="0.9"/>
<text x="97.60" y="366.30" font-size="11.8" text-anchor="start" fill="#111" stroke="#111" stroke-width="0.3" >rPfRh4 + CCP1-3</text>
<text transform="translate(66.00,472.30) rotate(-45)" font-size="11.5" text-anchor="end" fill="#111" stroke="#111" stroke-width="0.3">Buffer</text>
<text transform="translate(97.30,473.10) rotate(-45)" font-size="11.5" text-anchor="end" fill="#111" stroke="#111" stroke-width="0.3">0.0</text>
<text transform="translate(120.60,473.10) rotate(-45)" font-size="11.5" text-anchor="end" fill="#111" stroke="#111" stroke-width="0.3">1.2</text>
<text transform="translate(147.60,473.50) rotate(-45)" font-size="11.5" text-anchor="end" fill="#111" stroke="#111" stroke-width="0.3">4.8</text>
<text transform="translate(175.80,473.50) rotate(-45)" font-size="11.5" text-anchor="end" fill="#111" stroke="#111" stroke-width="0.3">9.6</text>
<text transform="translate(203.30,473.10) rotate(-45)" font-size="11.5" text-anchor="end" fill="#111" stroke="#111" stroke-width="0.3">19.2</text>
<line x1="86.30" y1="489.80" x2="196.50" y2="489.80" stroke="#333" stroke-width="1.0" />
<polygon points="84.30,489.80 88.50,487.60 88.50,492.00" fill="#333"/>
<polygon points="198.50,489.80 194.30,487.60 194.30,492.00" fill="#333"/>
<text x="142.60" y="503.60" font-size="11.8" text-anchor="middle" fill="#111" stroke="#111" stroke-width="0.3" >rPfRh4 (nM)</text>
<polygon points="166.38,385.65 167.10,387.40 168.99,387.55 167.55,388.78 167.99,390.62 166.38,389.64 164.76,390.62 165.20,388.78 163.76,387.55 165.65,387.40" fill="#111" stroke="#111" stroke-width="0.3"/>
<polygon points="171.43,385.65 172.15,387.40 174.04,387.55 172.60,388.78 173.04,390.62 171.43,389.64 169.81,390.62 170.25,388.78 168.81,387.55 170.70,387.40" fill="#111" stroke="#111" stroke-width="0.3"/>
<polygon points="190.85,375.05 191.58,376.80 193.47,376.95 192.03,378.18 192.47,380.02 190.85,379.04 189.23,380.02 189.67,378.18 188.23,376.95 190.12,376.80" fill="#111" stroke="#111" stroke-width="0.3"/>
<polygon points="195.90,375.05 196.63,376.80 198.52,376.95 197.08,378.18 197.52,380.02 195.90,379.04 194.28,380.02 194.72,378.18 193.28,376.95 195.17,376.80" fill="#111" stroke="#111" stroke-width="0.3"/>
<polygon points="200.95,375.05 201.68,376.80 203.57,376.95 202.13,378.18 202.57,380.02 200.95,379.04 199.33,380.02 199.77,378.18 198.33,376.95 200.22,376.80" fill="#111" stroke="#111" stroke-width="0.3"/>
<text transform="translate(20.50,399.40) rotate(-90)" font-size="11.3" text-anchor="middle" fill="#111" stroke="#111" stroke-width="0.3">OD 414 nm</text>
<text x="244.50" y="342.20" font-size="13.4" text-anchor="start" fill="#111" stroke="#111" stroke-width="0.3" >F</text>
<line x1="288.30" y1="353.50" x2="288.30" y2="462.10" stroke="#111111" stroke-width="1.1" />
<line x1="285.00" y1="354.00" x2="288.30" y2="354.00" stroke="#111111" stroke-width="1.1" />
<line x1="285.00" y1="389.90" x2="288.30" y2="389.90" stroke="#111111" stroke-width="1.1" />
<line x1="285.00" y1="425.80" x2="288.30" y2="425.80" stroke="#111111" stroke-width="1.1" />
<line x1="285.00" y1="461.60" x2="288.30" y2="461.60" stroke="#111111" stroke-width="1.1" />
<line x1="285.80" y1="461.60" x2="451.30" y2="461.60" stroke="#111111" stroke-width="1.1" />
<text x="282.90" y="357.20" font-size="11.5" text-anchor="end" fill="#111" stroke="#111" stroke-width="0.3" >2.0</text>
<text x="282.90" y="393.10" font-size="11.5" text-anchor="end" fill="#111" stroke="#111" stroke-width="0.3" >1.5</text>
<text x="282.90" y="429.00" font-size="11.5" text-anchor="end" fill="#111" stroke="#111" stroke-width="0.3" >0.5</text>
<text x="282.90" y="464.80" font-size="11.5" text-anchor="end" fill="#111" stroke="#111" stroke-width="0.3" >0.0</text>
<rect x="292.00" y="384.60" width="19.60" height="77.00" fill="#fff" stroke="#222" stroke-width="1.2"/>
<line x1="301.80" y1="378.10" x2="301.80" y2="384.60" stroke="#111111" stroke-width="1.1" />
<line x1="297.30" y1="378.10" x2="306.30" y2="378.10" stroke="#111111" stroke-width="1.1" />
<line x1="301.80" y1="461.60" x2="301.80" y2="464.90" stroke="#111111" stroke-width="1.1" />
<rect x="320.10" y="424.50" width="18.40" height="37.10" fill="#7c7c7c" stroke="#333" stroke-width="1.0"/>
<line x1="329.30" y1="420.80" x2="329.30" y2="424.50" stroke="#111111" stroke-width="1.2" />
<line x1="324.40" y1="420.80" x2="334.20" y2="420.80" stroke="#111111" stroke-width="1.2" />
<line x1="329.30" y1="461.60" x2="329.30" y2="464.90" stroke="#111111" stroke-width="1.1" />
<rect x="346.90" y="417.90" width="18.50" height="43.70" fill="#7c7c7c" stroke="#333" stroke-width="1.0"/>
<line x1="356.15" y1="412.70" x2="356.15" y2="417.90" stroke="#111111" stroke-width="1.2" />
<line x1="351.25" y1="412.70" x2="361.05" y2="412.70" stroke="#111111" stroke-width="1.2" />
<line x1="356.15" y1="461.60" x2="356.15" y2="464.90" stroke="#111111" stroke-width="1.1" />
<rect x="374.00" y="415.60" width="18.20" height="46.00" fill="#7c7c7c" stroke="#333" stroke-width="1.0"/>
<line x1="383.10" y1="409.20" x2="383.10" y2="415.60" stroke="#111111" stroke-width="1.2" />
<line x1="378.20" y1="409.20" x2="388.00" y2="409.20" stroke="#111111" stroke-width="1.2" />
<line x1="383.10" y1="461.60" x2="383.10" y2="464.90" stroke="#111111" stroke-width="1.1" />
<rect x="400.90" y="401.40" width="18.10" height="60.20" fill="#7c7c7c" stroke="#333" stroke-width="1.0"/>
<line x1="409.95" y1="396.20" x2="409.95" y2="401.40" stroke="#111111" stroke-width="1.2" />
<line x1="405.05" y1="396.20" x2="414.85" y2="396.20" stroke="#111111" stroke-width="1.2" />
<line x1="409.95" y1="461.60" x2="409.95" y2="464.90" stroke="#111111" stroke-width="1.1" />
<rect x="427.70" y="391.10" width="18.40" height="70.50" fill="#7c7c7c" stroke="#333" stroke-width="1.0"/>
<line x1="436.90" y1="384.70" x2="436.90" y2="391.10" stroke="#111111" stroke-width="1.2" />
<line x1="432.00" y1="384.70" x2="441.80" y2="384.70" stroke="#111111" stroke-width="1.2" />
<line x1="436.90" y1="461.60" x2="436.90" y2="464.90" stroke="#111111" stroke-width="1.1" />
<rect x="319.40" y="355.90" width="9.80" height="10.20" fill="#7c7c7c" stroke="#333" stroke-width="0.9"/>
<text x="335.00" y="366.30" font-size="11.8" text-anchor="start" fill="#111" stroke="#111" stroke-width="0.3" >rPfRh4 + CCP1-3</text>
<text transform="translate(308.80,472.30) rotate(-45)" font-size="11.5" text-anchor="end" fill="#111" stroke="#111" stroke-width="0.3">Buffer</text>
<text transform="translate(333.70,471.70) rotate(-45)" font-size="11.5" text-anchor="end" fill="#111" stroke="#111" stroke-width="0.3">0</text>
<text transform="translate(361.40,471.70) rotate(-45)" font-size="11.5" text-anchor="end" fill="#111" stroke="#111" stroke-width="0.3">26</text>
<text transform="translate(388.40,471.70) rotate(-45)" font-size="11.5" text-anchor="end" fill="#111" stroke="#111" stroke-width="0.3">51</text>
<text transform="translate(416.70,471.70) rotate(-45)" font-size="11.5" text-anchor="end" fill="#111" stroke="#111" stroke-width="0.3">102</text>
<text transform="translate(444.40,471.70) rotate(-45)" font-size="11.5" text-anchor="end" fill="#111" stroke="#111" stroke-width="0.3">205</text>
<line x1="328.30" y1="489.90" x2="440.30" y2="489.90" stroke="#333" stroke-width="1.0" />
<polygon points="326.30,489.90 330.50,487.70 330.50,492.10" fill="#333"/>
<polygon points="442.30,489.90 438.10,487.70 438.10,492.10" fill="#333"/>
<text x="385.50" y="503.60" font-size="11.8" text-anchor="middle" fill="#111" stroke="#111" stroke-width="0.3" >rPfRh4 (nM)</text>
<polygon points="434.38,375.45 435.10,377.20 436.99,377.35 435.55,378.58 435.99,380.42 434.38,379.44 432.76,380.42 433.20,378.58 431.76,377.35 433.65,377.20" fill="#111" stroke="#111" stroke-width="0.3"/>
<polygon points="439.42,375.45 440.15,377.20 442.04,377.35 440.60,378.58 441.04,380.42 439.42,379.44 437.81,380.42 438.25,378.58 436.81,377.35 438.70,377.20" fill="#111" stroke="#111" stroke-width="0.3"/>
<text transform="translate(260.60,399.40) rotate(-90)" font-size="11.3" text-anchor="middle" fill="#111" stroke="#111" stroke-width="0.3">OD 414 nm</text>
</svg></body></html>
